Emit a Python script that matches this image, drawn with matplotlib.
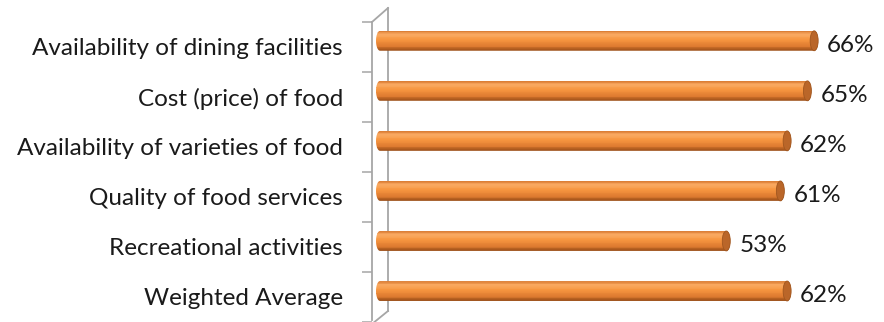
import numpy as np
import matplotlib.pyplot as plt
from matplotlib.path import Path
from matplotlib.patches import PathPatch, Ellipse
from matplotlib.lines import Line2D
from matplotlib.colors import LinearSegmentedColormap

categories = ['Availability of dining facilities', 'Cost (price) of food',
              'Availability of varieties of food', 'Quality of food services',
              'Recreational activities', 'Weighted Average']
values = [66, 65, 62, 61, 53, 62]
value_labels = ['66%', '65%', '62%', '61%', '53%', '62%']

W, H = 884, 322
plt.rcParams['font.family'] = ['Lato', 'DejaVu Sans']
fig = plt.figure(figsize=(W / 100, H / 100), dpi=100)

# axes: front plane zero at x=372px, 6.76 px per percent, rows 50.3px apart
x0px = 372
pxpct = 6.76
rowpx = 50.3
ax = fig.add_axes([x0px / W, 0, (W - x0px) / W, 1])
ax.set_xlim(0, (W - x0px) / pxpct)
ax.set_ylim((H - 47) / rowpx, -47 / rowpx)
ax.patch.set_visible(False)

px = 1 / pxpct      # one pixel in x data units
py = 1 / rowpx      # one pixel in y data units

shade = LinearSegmentedColormap.from_list('cyl', [
    (0.0, '#DC7F36'), (0.18, '#FAAA62'), (0.45, '#F6953F'),
    (0.78, '#DE7B30'), (1.0, '#9E5018')])

bar_h = 20 * py
yc = np.arange(len(values)) - 6 * py
rx = 4 * px
nstrip = 24

for i, v in enumerate(values):
    xa, xb = 4 * px, v
    top = yc[i] - bar_h / 2
    # outline of the cylinder body (rounded ends)
    ang1 = np.linspace(np.pi / 2, 3 * np.pi / 2, 20)
    ang2 = np.linspace(-np.pi / 2, np.pi / 2, 20)
    left = np.column_stack([xa + rx + rx * np.cos(ang1), yc[i] - bar_h / 2 * np.sin(ang1)])
    right = np.column_stack([xb - rx + rx * np.cos(ang2), yc[i] - bar_h / 2 * np.sin(ang2)])
    verts = np.vstack([left, right, left[:1]])
    clip = PathPatch(Path(verts), transform=ax.transData, facecolor='none', edgecolor='none')
    for k in range(nstrip):
        b = ax.barh(top + (k + 0.5) * bar_h / nstrip, xb - xa, left=xa,
                    height=bar_h / nstrip * 1.05, color=shade(k / (nstrip - 1)),
                    linewidth=0, zorder=3)
        for p in b:
            p.set_clip_path(clip)
    cap = Ellipse((xb - rx, yc[i]), 2 * rx, bar_h, facecolor='#BA6629',
                  edgecolor='#A0561F', linewidth=0.6, zorder=4)
    ax.add_patch(cap)
    ax.annotate(value_labels[i], (v, yc[i]), xytext=(6.5, -3.5),
                textcoords='offset points', ha='left', va='center',
                fontsize=17.5, color='#1a1a1a')

ax.set_yticks(range(len(categories)))
ax.set_yticklabels(categories, fontsize=17.5, color='#1a1a1a')
ax.set_yticks(np.arange(len(categories) + 1) - 0.5, minor=True)
ax.tick_params(axis='y', which='major', length=0, pad=21)
ax.tick_params(axis='y', which='minor', length=7.2, width=1.1, color='#A6A6A6')
ax.set_xticks([])
for s in ['top', 'right', 'bottom']:
    ax.spines[s].set_visible(False)
ax.spines['left'].set_color('#A6A6A6')
ax.spines['left'].set_linewidth(1.3)
ax.spines['left'].set_bounds(-0.5, (H - 47) / rowpx)

# back wall of the 3D frame
def fx(x):
    return x / W

def fy(y):
    return 1 - y / H

wall = dict(color='#A6A6A6', linewidth=1.3, transform=fig.transFigure, zorder=-1)
fig.add_artist(Line2D([fx(388), fx(388)], [fy(8), fy(311)], **wall))
fig.add_artist(Line2D([fx(372), fx(388)], [fy(22), fy(8)], **wall))
fig.add_artist(Line2D([fx(372), fx(388)], [fy(324), fy(311)], **wall))

fig.savefig('out.png', dpi=100)
